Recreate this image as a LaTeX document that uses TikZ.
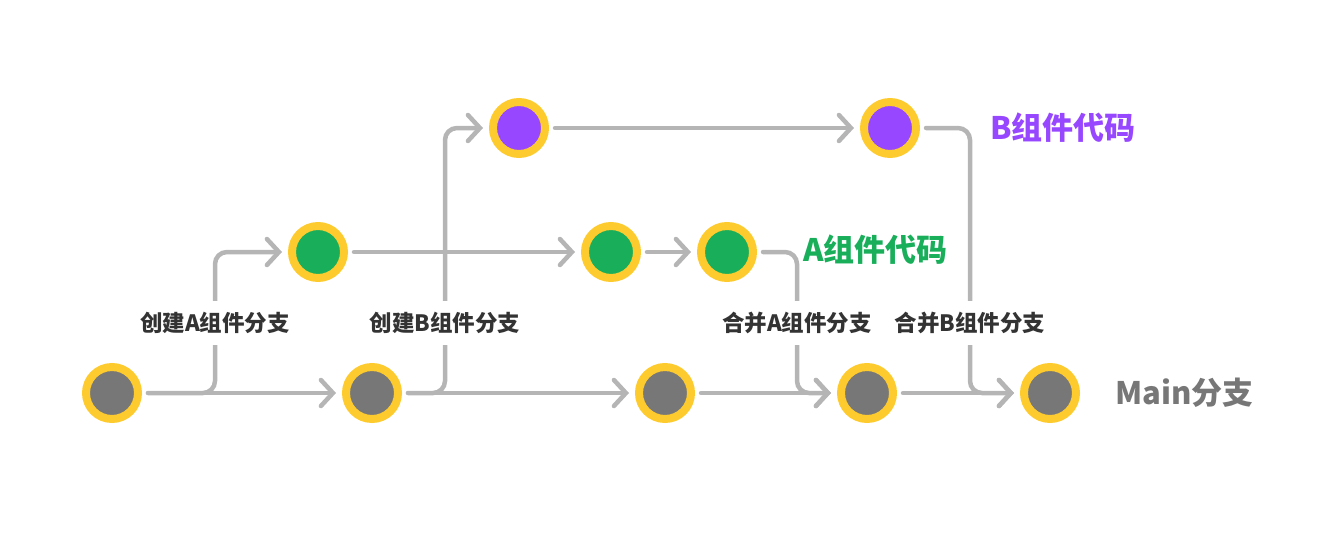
\documentclass[tikz,border=0pt]{standalone}
\usepackage{fontspec}
\setmainfont{Noto Sans CJK SC}
\usetikzlibrary{arrows.meta}
\definecolor{ring}{HTML}{FECB2E}
\definecolor{maingray}{HTML}{777777}
\definecolor{agreen}{HTML}{18AE5A}
\definecolor{bpurple}{HTML}{9747FF}
\definecolor{linegray}{HTML}{B5B5B5}
\definecolor{txt}{HTML}{333333}

\begin{document}
\begin{tikzpicture}[x=1pt,y=-1pt,
    commit/.style={circle,draw=ring,line width=8pt,minimum size=52pt,inner sep=0pt},
    link/.style={line width=4.5pt,draw=linegray,line cap=round,rounded corners=12pt,
      shorten <=6pt,shorten >=6pt,-{Straight Barb[length=12pt,width=26pt,line cap=round]}},
    step label/.style={fill=white,inner xsep=2pt,inner ysep=11pt,text=txt,
      font=\fontsize{22.5}{26}\selectfont\bfseries},
    branch label/.style={anchor=west,inner sep=0pt,font=\fontsize{31}{35}\selectfont\bfseries}]
  \useasboundingbox (0,0) rectangle (1330,551);
  % main branch
  \node[commit,fill=maingray] (m1) at (112,393) {};
  \node[commit,fill=maingray] (m2) at (372,393) {};
  \node[commit,fill=maingray] (m3) at (665,393) {};
  \node[commit,fill=maingray] (m4) at (867,393) {};
  \node[commit,fill=maingray] (m5) at (1050,393) {};
  % component A
  \node[commit,fill=agreen] (a1) at (318,252) {};
  \node[commit,fill=agreen] (a2) at (611,252) {};
  \node[commit,fill=agreen] (a3) at (727,252) {};
  % component B
  \node[commit,fill=bpurple] (b1) at (519,128) {};
  \node[commit,fill=bpurple] (b2) at (890,128) {};
  % fork and merge points on the main line
  \coordinate (forkA) at (215,393);
  \coordinate (forkB) at (445,393);
  \coordinate (mergeA) at (797,393);
  \coordinate (mergeB) at (970,393);

  \draw[link] (m1.east) -- (m2.west);
  \draw[link] (m2.east) -- (m3.west);
  \draw[link] (m3.east) -- (m4.west);
  \draw[link] (m4.east) -- (m5.west);
  \draw[link] (m1.east) -- (forkA) |- (a1.west);
  \draw[link] (m2.east) -- (forkB) |- (b1.west);
  \draw[link] (a1.east) -- (a2.west);
  \draw[link] (a2.east) -- (a3.west);
  \draw[link] (b1.east) -- (b2.west);
  \draw[link] (a3.east) -| (mergeA) -- (m4.west);
  \draw[link] (b2.east) -| (mergeB) -- (m5.west);

  \node[step label] (lforkA) at (215,323) {创建A组件分支};
  \node[step label] (lforkB) at (445,323) {创建B组件分支};
  \node[step label] (lmergeA) at (797,323) {合并A组件分支};
  \node[step label] (lmergeB) at (970,323) {合并B组件分支};

  \node[branch label,text=bpurple] (nameB) at (990,128) {B组件代码};
  \node[branch label,text=agreen] (nameA) at (803,250) {A组件代码};
  \node[branch label,text=maingray] (nameM) at (1115,393) {Main分支};
\end{tikzpicture}
\end{document}
